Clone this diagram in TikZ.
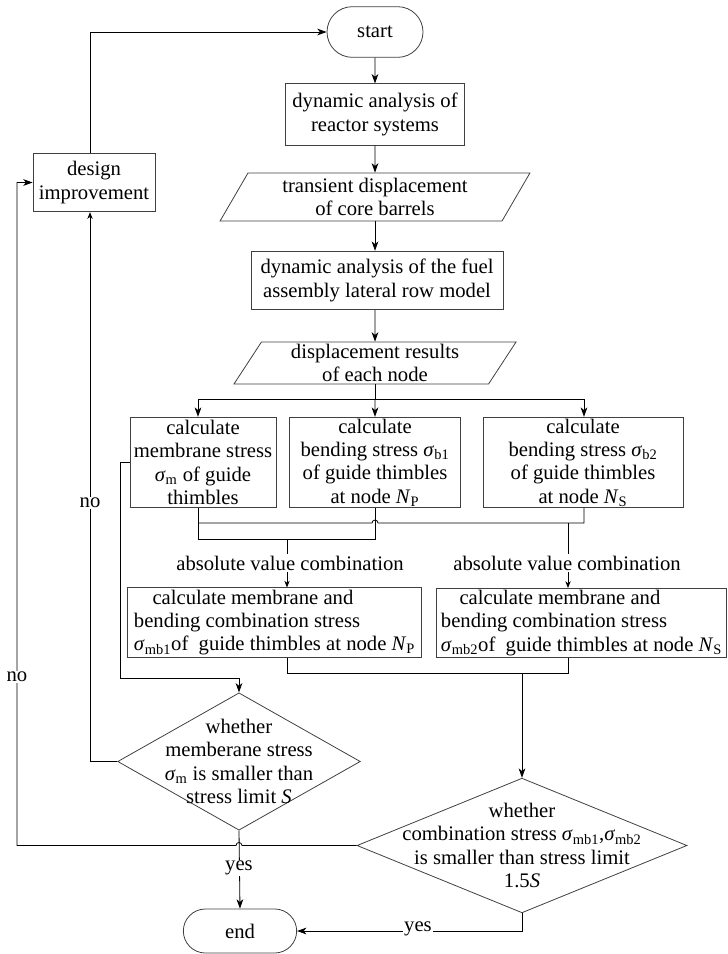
\documentclass[tikz,border=0pt]{standalone}
\usepackage{fontspec}
\setmainfont{Liberation Serif}
\usetikzlibrary{shapes.geometric,shapes.misc,arrows.meta}
\newcommand{\sg}[1]{\textit{σ}\textsubscript{#1}}
\newcommand{\nd}[1]{\textit{N}\textsubscript{#1}}

\begin{document}
\begin{tikzpicture}[x=0.75pt, y=-0.75pt, line width=0.6pt,
    font=\fontsize{15.5}{17.5}\selectfont,
    box/.style={draw=black!75, rectangle, align=center, inner sep=1pt},
    term/.style={draw=black!75, rounded rectangle, inner sep=1pt},
    io/.style={draw=black!75, trapezium, trapezium left angle=63, trapezium right angle=117,
        trapezium stretches=true, align=center, inner sep=1pt},
    decide/.style={draw=black!75, diamond, inner sep=0pt},
    arr/.style={-{Stealth[length=7pt,width=5pt,inset=2pt]}},
    small/.style={-{Stealth[length=5pt,width=4pt,inset=1.5pt]}},
    lbl/.style={fill=white, inner sep=1pt}]
    \useasboundingbox (0,0) rectangle (728,954);

    % Main chain
    \node[term, minimum width=74pt, minimum height=38pt] (start) at (375,32) {start};
    \node[box, minimum width=134pt, minimum height=46pt] (sys) at (375,114.5) {dynamic analysis of\\reactor systems};
    \node[io, minimum width=233pt, minimum height=36pt] (core) at (375,197) {transient displacement\\of core barrels};
    \node[box, minimum width=189pt, minimum height=44pt] (row) at (377,280.5) {dynamic analysis of the fuel\\assembly lateral row model};
    \node[io, minimum width=212pt, minimum height=31.5pt] (disp) at (375,363) {displacement results\\of each node};

    % Stress calculations
    \node[box, minimum width=109.5pt, minimum height=68pt] (memb) at (203,462.5) {calculate\\membrane stress\\\sg{m} of guide\\thimbles};
    \node[box, minimum width=128pt, minimum height=68pt] (bend1) at (375,462.5) {calculate\\bending stress \sg{b1}\\of guide thimbles\\at node \nd{P}};
    \node[box, minimum width=150pt, minimum height=68pt] (bend2) at (583,462.5) {calculate\\bending stress \sg{b2}\\of guide thimbles\\at node \nd{S}};
    \node[box, align=left, minimum width=220pt, minimum height=52pt] (comb1) at (274.5,622.5) {\hspace*{0.9em}calculate membrane and\\bending combination stress\\\sg{mb1}of\ \ guide thimbles at node \nd{P}};
    \node[box, align=left, minimum width=217pt, minimum height=52pt] (comb2) at (581.5,623) {\hspace*{0.9em}calculate membrane and\\bending combination stress\\\sg{mb2}of\ \ guide thimbles at node \nd{S}};

    % Checks
    \node[decide, minimum width=182pt, minimum height=103pt] (chk1) at (239,761.5) {};
    \node[align=center] (chk1t) at (239,761.5) {whether\\memberane stress\\\sg{m} is smaller than\\stress limit \textit{S}};
    \node[decide, minimum width=247.5pt, minimum height=101pt] (chk2) at (522,845.5) {};
    \node[align=center] (chk2t) at (522,845.5) {whether\\combination stress \sg{mb1},\sg{mb2}\\is smaller than stress limit\\1.5\textit{S}};
    \node[box, minimum width=91.5pt, minimum height=44pt] (improve) at (94,182.5) {design\\improvement};
    \node[term, minimum width=87pt, minimum height=33pt] (end) at (240,931) {end};

    % Junction points
    \coordinate (ja) at (198,399);
    \coordinate (jc) at (584,399);
    \coordinate (s1) at (287,539);
    \coordinate (s2) at (568,523);
    \coordinate (up) at (90,761.5);
    \coordinate (left) at (17,845.5);

    \draw[arr] (start) -- (sys);
    \draw[arr] (sys) -- (core);
    \draw[arr] (core.south) -- (core.south |- row.north);
    \draw[arr] (row.south -| disp) -- (disp.north);
    \draw (disp.south) -- (disp.south |- ja);
    \draw (ja) -- (jc);
    \draw[arr] (ja) -- (ja |- memb.north);
    \draw[arr] (disp.south |- ja) -- (bend1.north);
    \draw[arr] (jc) -- (jc |- bend2.north);

    % Combinations
    \draw (ja |- memb.south) -- (198,539) -- (375,539) -- (bend1.south);
    \draw (198,523) -- (372,523) arc[start angle=180, end angle=0, radius=2.25pt] -- (584,523) -- (jc |- bend2.south);
    \draw[small] (s1) -- (s1 |- comb1.north);
    \draw[small] (s2) -- (s2 |- comb2.north);
    \node[lbl] (abs1) at (290,563) {absolute value combination};
    \node[lbl] (abs2) at (567,563) {absolute value combination};
    \draw (s1 |- comb1.south) -- (287,673) -- (568,673) -- (s2 |- comb2.south);
    \draw[arr] (chk2.north |- s1 |- 0,673) -- (chk2.north);

    % Membrane check
    \draw[arr] (memb.west) -- (120,462.5) -- (120,678) -- (239,678) -- (chk1.north);
    \draw[small] (chk1.west) -- (up) -- (up |- improve.south);
    \node[lbl] (no1) at (90,503) {no};
    \draw[arr] (up |- improve.north) -- (90,32) -- (start.west);

    % Combination check
    \draw[arr] (chk2.west) -- (242,845.5) arc[start angle=0, end angle=180, radius=2.25pt] -- (left) -- (left |- improve.west) -- (improve.west);
    \node[lbl] (no2) at (17,677) {no};
    \draw[arr] (chk1.south) -- (end.north);
    \node[lbl] (yes1) at (239,868) {yes};
    \draw[arr] (chk2.south) -- (chk2.south |- end.east) -- (end.east);
    \node[lbl] (yes2) at (418,929) {yes};
\end{tikzpicture}
\end{document}
